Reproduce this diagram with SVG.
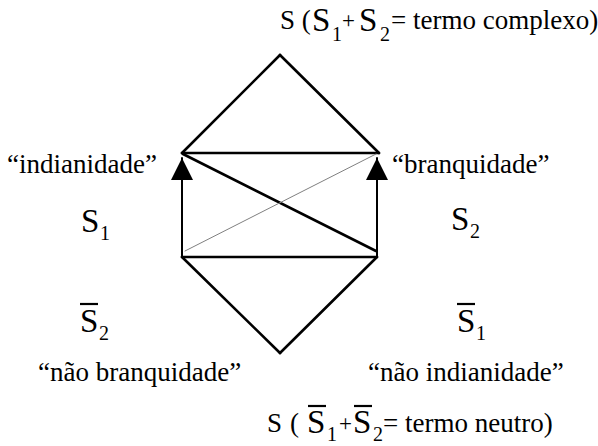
<svg xmlns="http://www.w3.org/2000/svg" width="598" height="446" viewBox="0 0 598 446" font-family="'Liberation Serif', 'Times New Roman', 'DejaVu Serif', serif">
<style>
text, tspan{font-family:'Liberation Serif','Times New Roman','DejaVu Serif',serif;fill:#000}
.t{font-size:27px}
.big{font-size:33px}
.sub{font-size:20px}
.pl{font-size:23px}
.e{stroke:#000;fill:none;stroke-linecap:round}
.thick{stroke-width:2.6}
.mid{stroke-width:2}
.thin{stroke:#808080;stroke-width:1}
.bar{stroke:#000;stroke-width:2.2}
</style>
<defs>
<marker id="ah" markerUnits="userSpaceOnUse" markerWidth="24" markerHeight="22" refX="22" refY="11" orient="auto" viewBox="0 0 24 22">
<polygon points="0,0 22,11 0,22" fill="#000"/>
</marker>
</defs>
<g id="connectors">
<line class="e thick" x1="182" y1="153" x2="280" y2="55"/>
<line class="e thick" x1="280" y1="55" x2="379" y2="153"/>
<line class="e thick" x1="182" y1="153" x2="379" y2="153"/>
<line class="e thick" x1="182" y1="257" x2="377" y2="257"/>
<line class="e thick" x1="182" y1="257" x2="280" y2="353"/>
<line class="e thick" x1="377" y1="257" x2="280" y2="353"/>
<line class="e thick" x1="183" y1="154" x2="376" y2="251"/>
<line class="e thin" x1="185" y1="251" x2="376" y2="154"/>
<line class="e mid" x1="182" y1="257" x2="182" y2="158" marker-end="url(#ah)"/>
<line class="e mid" x1="377" y1="257" x2="377" y2="158" marker-end="url(#ah)"/>
</g>
<g id="top">
<text x="280" y="29"><tspan class="t">S (</tspan><tspan class="big" x="312" y="31">S</tspan><tspan class="sub" x="332" y="41">1</tspan><tspan class="pl" x="342" y="28">+</tspan><tspan class="big" x="359" y="31">S</tspan><tspan class="sub" x="380" y="41">2</tspan><tspan class="t" x="391" y="29">= termo complexo)</tspan></text>
</g>
<g id="indianidade">
<text class="t" x="7" y="173">“indianidade”</text>
<text x="81" y="232"><tspan class="big">S</tspan><tspan class="sub" x="100" y="240">1</tspan></text>
</g>
<g id="branquidade">
<text class="t" x="392" y="173">“branquidade”</text>
<text x="451" y="230"><tspan class="big">S</tspan><tspan class="sub" x="470" y="238">2</tspan></text>
</g>
<g id="nao-branquidade">
<line class="bar" x1="80" y1="304" x2="98" y2="304"/>
<text x="80" y="332"><tspan class="big">S</tspan><tspan class="sub" x="99" y="340">2</tspan></text>
<text class="t" x="38" y="381">“não branquidade”</text>
</g>
<g id="nao-indianidade">
<line class="bar" x1="457" y1="304" x2="475" y2="304"/>
<text x="457" y="332"><tspan class="big">S</tspan><tspan class="sub" x="476" y="340">1</tspan></text>
<text class="t" x="368" y="381">“não indianidade”</text>
</g>
<g id="bottom">
<line class="bar" x1="308" y1="406" x2="326" y2="406"/>
<line class="bar" x1="354" y1="406" x2="372" y2="406"/>
<text x="267" y="432"><tspan class="t">S</tspan><tspan class="t" x="290">(</tspan><tspan class="big" x="307" y="433">S</tspan><tspan class="sub" x="327" y="441">1</tspan><tspan class="pl" x="339" y="431">+</tspan><tspan class="big" x="353" y="433">S</tspan><tspan class="sub" x="373" y="441">2</tspan><tspan class="t" x="383" y="432">= termo neutro)</tspan></text>
</g>
</svg>
